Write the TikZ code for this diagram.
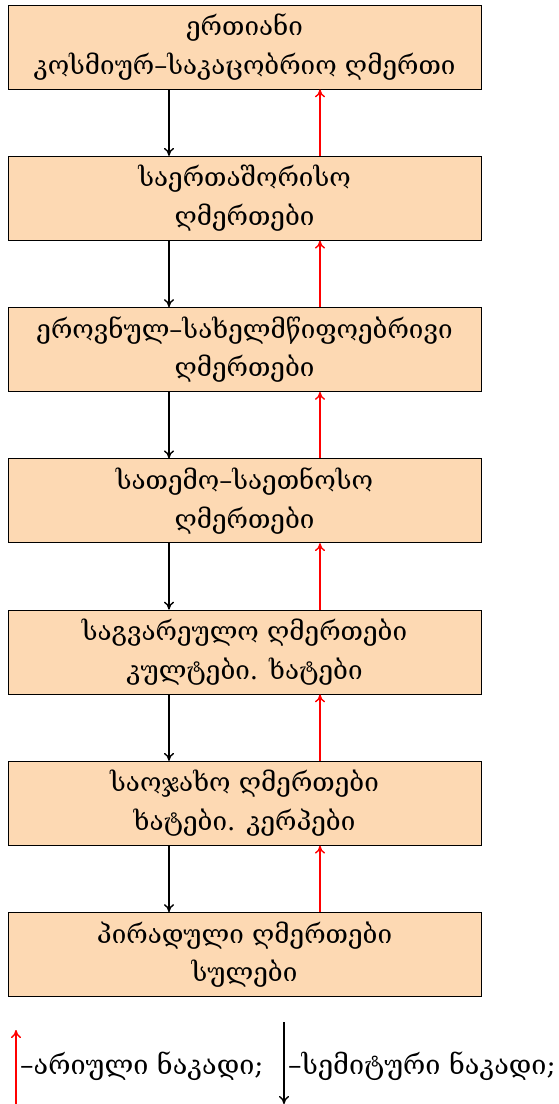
\documentclass[tikz,border=0pt]{standalone}
\usepackage{fontspec}
\setmainfont{DejaVu Serif}
\usetikzlibrary{arrows.meta,calc}
\definecolor{boxfill}{RGB}{253,217,179}
\tikzset{
  godbox/.style={draw=black, line width=0.8pt, fill=boxfill, minimum width=473pt, minimum height=84pt, align=center, inner sep=0pt, font=\fontsize{26}{38.5}\selectfont},
  semflow/.style={draw=black, line width=1.4pt, -{To[length=8pt,width=10pt]}},
  arflow/.style={draw=red, line width=1.4pt, -{To[length=8pt,width=10pt]}},
  legtext/.style={anchor=west, inner sep=0pt, font=\fontsize{27}{30}\selectfont}
}
\begin{document}
\begin{tikzpicture}[x=1pt,y=-1pt]
\useasboundingbox (0,0) rectangle (558,1104);
\node[godbox] (b1) at (244.5,47) {ერთიანი\\კოსმიურ–საკაცობრიო ღმერთი};
\node[godbox] (b2) at (244.5,198.25) {საერთაშორისო\\ღმერთები};
\node[godbox] (b3) at (244.5,349.5) {ეროვნულ–სახელმწიფოებრივი\\ღმერთები};
\node[godbox] (b4) at (244.5,500.75) {სათემო–საეთნოსო\\ღმერთები};
\node[godbox] (b5) at (244.5,652) {საგვარეულო ღმერთები\\კულტები. ხატები};
\node[godbox] (b6) at (244.5,803.25) {საოჯახო ღმერთები\\ხატები. კერპები};
\node[godbox] (b7) at (244.5,954.5) {პირადული ღმერთები\\სულები};
\coordinate (xl) at (169,0);
\coordinate (xr) at (320,0);
\foreach \a/\b in {b1/b2,b2/b3,b3/b4,b4/b5,b5/b6,b6/b7}{
  \draw[semflow] (\a.south -| xl) -- (\b.north -| xl);
  \draw[arflow] (\b.north -| xr) -- (\a.south -| xr);
}
% legend
\coordinate (r0) at (16,1104);
\coordinate (r1) at (16,1030);
\draw[arflow] (r0) -- (r1);
\node[legtext] (lt1) at (20,1066) {–არიული ნაკადი;};
\coordinate (s0) at (284,1022);
\coordinate (s1) at (284,1104);
\draw[semflow] (s0) -- (s1);
\node[legtext] (lt2) at (288,1066) {–სემიტური ნაკადი;};
\end{tikzpicture}
\end{document}
